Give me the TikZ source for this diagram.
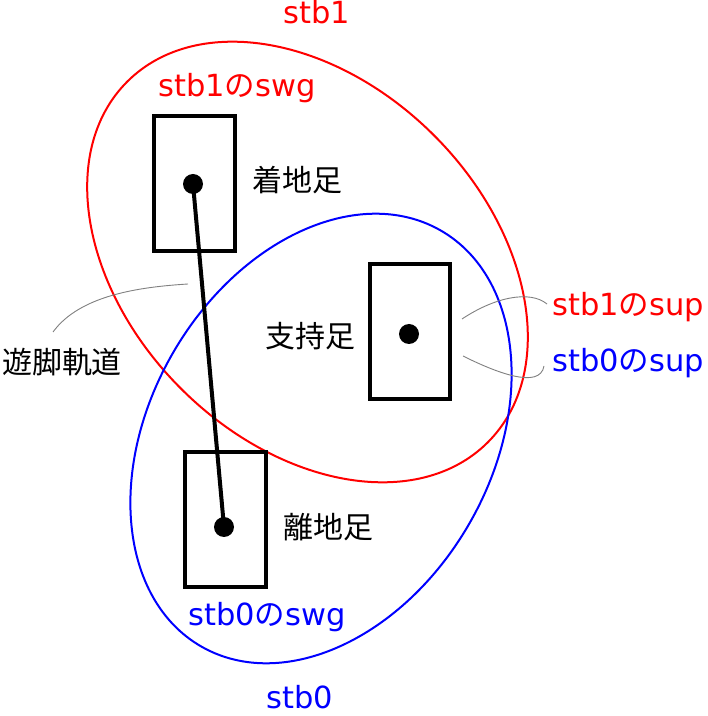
\documentclass[tikz,border=0pt]{standalone}
\usepackage{fontspec}
\setmainfont{DejaVu Sans}
\newfontfamily\cjk{Noto Sans CJK JP}
\begin{document}
\begin{tikzpicture}[x=1pt,y=1pt,
  lbl/.style={font=\fontsize{30.5}{36}\selectfont, inner sep=0pt},
  jlbl/.style={font=\fontsize{30}{36}\selectfont\cjk, inner sep=0pt},
  foot/.style={draw=black, line width=4pt, minimum width=81pt, minimum height=135pt, inner sep=0pt},
  footdot/.style={circle, fill=black, minimum size=20pt, inner sep=0pt},
  callout/.style={draw=gray, line width=0.9pt},
  stbred/.style={draw=red, line width=2pt},
  stbblue/.style={draw=blue, line width=2pt}]
\useasboundingbox (0,0) rectangle (708,716);
% ellipses
\draw[stbred] (307.5,454) ellipse [x radius=255, y radius=179, rotate=-45];
\draw[stbblue] (321,277.5) ellipse [x radius=240, y radius=171, rotate=60];
% feet
\node[foot] (land) at (194.5,532.5) {};
\node[foot, minimum width=80pt] (sup) at (410,384.5) {};
\node[foot] (lift) at (225.5,196.5) {};
\node[footdot] (landdot) at (193,532) {};
\node[footdot] (supdot) at (409,382) {};
\node[footdot] (liftdot) at (224,189) {};
\draw[line width=4pt] (landdot.center) -- (liftdot.center);
% labels
\node[lbl, text=red, anchor=base] (stb1) at (317,692) {stb1};
\node[lbl, text=red, anchor=base] (stb1swg) at (237,619) {stb1{\cjk の}swg};
\node[jlbl] (landlbl) at (297,536) {着地足};
\node[jlbl] (suplbl) at (310,380) {支持足};
\node[jlbl] (liftlbl) at (328,189) {離地足};
\node[jlbl] (traj) at (62,354) {遊脚軌道};
\node[lbl, text=red, anchor=base west] (stb1sup) at (552,400) {stb1{\cjk の}sup};
\node[lbl, text=blue, anchor=base west] (stb0sup) at (552,344) {stb0{\cjk の}sup};
\node[lbl, text=blue, anchor=base] (stb0swg) at (267,90) {stb0{\cjk の}swg};
\node[lbl, text=blue, anchor=base] (stb0) at (299.5,7) {stb0};
% callouts
\coordinate (trajend) at (188,432);
\coordinate (trajstart) at (53,384);
\draw[callout] (trajstart) .. controls (80,421) and (140,429) .. (trajend);
\coordinate (sup1start) at (462,397);
\coordinate (sup1end) at (547,412);
\draw[callout] (sup1start) .. controls (495,419) and (530,426) .. (sup1end);
\coordinate (sup0start) at (463,360);
\coordinate (sup0end) at (544,350);
\draw[callout] (sup0start) .. controls (495,344) and (540,326) .. (sup0end);
\end{tikzpicture}
\end{document}
